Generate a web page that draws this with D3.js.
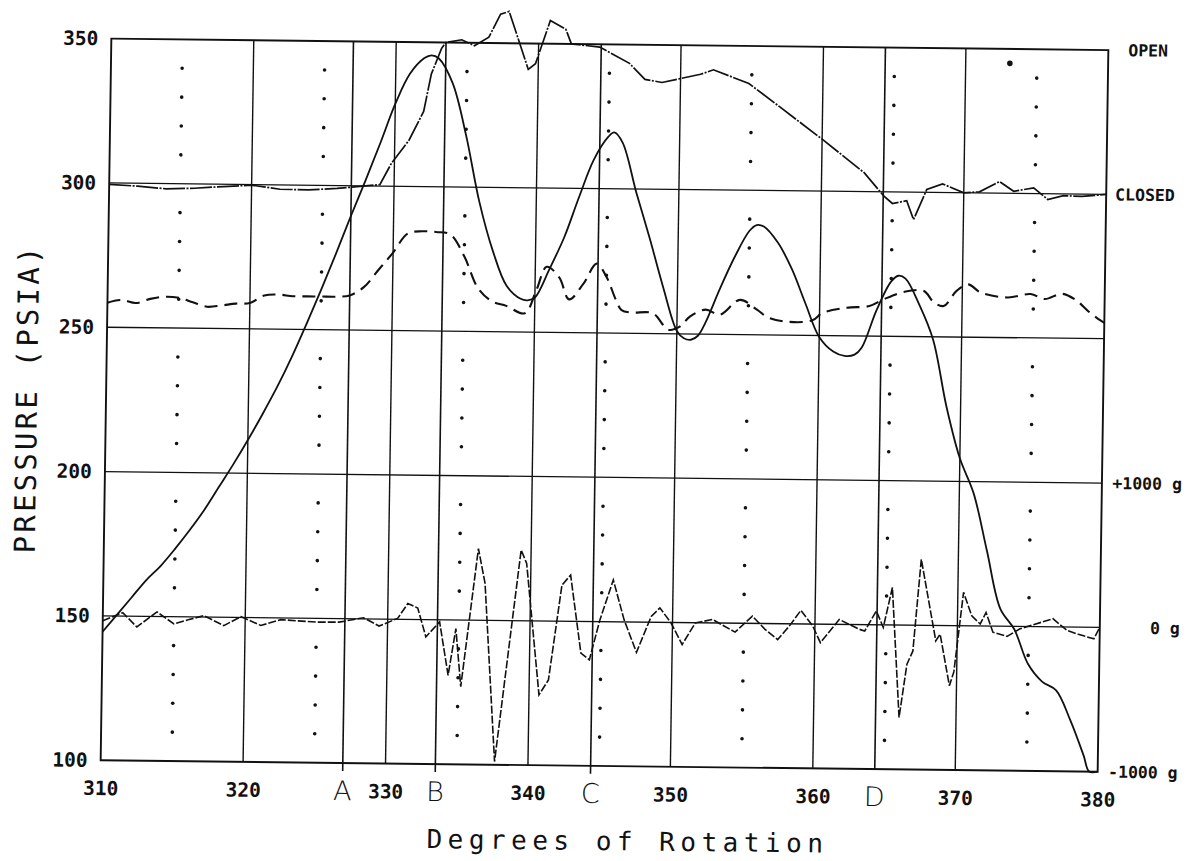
<!DOCTYPE html>
<html><head><meta charset="utf-8">
<script src="https://cdn.jsdelivr.net/npm/d3@7"></script>
<style>html,body{margin:0;padding:0;background:#fff;}svg{display:block;}</style>
</head><body>
<svg id="chart" width="1192" height="861"></svg>
<script>
// ---- data ----
const xTicks = [310, 320, 330, 340, 350, 360, 370, 380];
const yTicks = [100, 150, 200, 250, 300, 350];
const xGrid = [320, 330, 340, 350, 360, 370];
const yGrid = [150, 200, 250, 300];
const dottedDeg = [315, 325, 335, 345, 355, 365, 375];
const eventNames = ["A", "B", "C", "D"];
const eventDeg = [327, 333.5, 344.4, 364.35];
const rightLabelText = ["OPEN", "CLOSED", "+1000 g", "0 g", "-1000 g"];
const rightLabelLevel = [350, 300, 200, 150, 100];
const xTitle = "Degrees of Rotation";
const yTitle = "PRESSURE (PSIA)";

// cylinder pressure (solid smooth)
const pressure = [[310,144.5],[311,150.5],[312,156.5],[313,162.5],[314,167.5],[315,173.5],[316,180],[317,187],[318,195],[319,203],[320,211.5],[321,220.5],[322,230],[323,240.5],[324,252],[325,264],[326,276.5],[327,289.5],[328,302],[329,315],[330,328.5],[331,339],[332,344.5],[332.5,345.5],[333,344.5],[334,336],[335,318],[336,295],[337,278],[338,266],[339,261.5],[339.5,261],[340,262],[341,272],[342,283],[343,297],[344,310],[345,318],[345.4,319.5],[346,316],[347,299],[348,283],[349,266],[350,251],[350.5,248.5],[351,248],[351.5,249.5],[352,254],[353,266],[354,277],[355,286],[355.5,288],[356,287.5],[357,282],[358,273],[359,261],[360,249.5],[361,244.5],[361.8,243],[362.5,243.5],[363,246],[364,259],[365,269],[365.5,271],[366,270],[367,261],[368,249],[369,226],[370,208],[371,196],[372,176],[373,156],[374,149],[375,137],[376,131],[377,128],[378,118],[379,105.5],[379.4,100],[380,100]];

// valve position (CLOSED = 300, OPEN = 350)
const valve = [[310,299.5],[312,299],[314,298.2],[316,298.5],[318,299.2],[320,299.8],[322,298.5],[324,298.4],[326,299],[328,300],[329,300.5],[329.8,308],[331,316],[332,326],[332.5,339],[333.2,348],[333.5,350],[334.6,351],[335.5,349],[336.5,352],[337.3,360],[337.9,361],[339.3,341],[339.8,343],[340.8,358],[341.9,355],[342.3,350],[344.3,349],[346.4,343.5],[347.5,338],[348.7,337],[351.4,340],[352.3,341.6],[354.8,337],[357,329],[360,318],[363,306.5],[364.4,298.5],[365,296],[366,297],[366.5,290.5],[367.4,301],[368.5,303],[370,300],[371.1,300.4],[372.5,304],[373.5,300.7],[374.9,302],[375.9,298],[377,299.4],[378.3,299.2],[380,300]];

// second pressure trace (dashed)
const dashedTrace = [[310,258.5],[311,259.5],[312,258.5],[313,260],[314,260.8],[315,260.5],[316,259],[317,257.5],[318,258],[319,258.7],[320,259],[321,261.6],[322,262],[323,261.5],[324,261.5],[325,261.5],[326,261.5],[327,262],[328,265],[329,271],[330,277],[331,283.6],[332,284.5],[333,284.3],[334,283.5],[335,276],[336,265],[337,260.5],[338,259],[339.3,256.5],[340.1,264.6],[340.8,272.7],[341.7,269],[342.4,261.5],[343.4,267],[344.3,274],[345,269.5],[345.7,261.4],[346.1,258],[346.8,257.2],[348.3,257],[349.4,251.4],[350.2,252.5],[350.9,256],[352,258.5],[353,256.8],[354.4,262],[355.6,258.7],[356.4,256],[357.8,254.6],[359.5,255.2],[360.2,257.8],[361.9,259.7],[363.5,260.4],[364.5,262.8],[365.9,265.4],[367.3,265.8],[368,262],[368.7,260.7],[369.6,266],[370.4,268.3],[371.3,265.5],[373.2,263.9],[374.8,265.2],[375.8,263.5],[377,265.4],[378,263.2],[378.9,259.3],[379.7,256.4],[380,255.5]];

// accelerometer (0 g = 150, +-1000 g = +-50)
const accel = [[310,148.3],[311.4,151.2],[312.4,146.3],[313.8,151.6],[315,147.5],[316,149],[317.1,150.5],[318.5,147.1],[319.7,150.3],[321.1,147.3],[322.5,149.4],[325,148.7],[326.6,148.8],[328.3,150.4],[329.4,147.6],[330.7,150.3],[331.4,155.5],[332.1,154],[332.7,144],[333.65,149.3],[334.3,130.8],[334.8,147],[335.2,126.9],[336.3,174.8],[336.8,162.8],[337.65,101.1],[339.3,174.5],[339.7,169.9],[340.7,124.4],[341.35,129.6],[342.2,162.5],[342.8,166],[343.6,139],[344.2,136.7],[344.9,150.6],[345.8,164.5],[346.6,150.7],[347.5,139.5],[348.5,152],[349.1,155],[349.9,149.8],[350.7,142.4],[351.6,149.9],[352.8,151.2],[354.4,146.9],[355.6,152.5],[356.5,148],[357.4,144.5],[358.2,149.2],[359,154.7],[359.85,149.3],[360.4,143.6],[361.7,151.7],[363.1,148.4],[363.5,147.8],[364.3,154.8],[364.8,149.1],[365.4,163],[366,118],[366.5,136.5],[366.9,141],[367.4,172.9],[368.5,144.7],[368.8,147],[369.5,129.2],[369.8,134],[370.4,161.6],[371,153.5],[371.6,150.7],[372,154.7],[372.5,147.9],[373.5,146.5],[374.4,149.2],[375.3,150.6],[376.7,152.8],[377.7,148.8],[378.5,147.5],[379.6,146],[380,150.1]];

const strayMark = [[373.1, 345]];

// ---- drawing ----
const svg = d3.select('#chart');
svg.append('rect').attr('width', 1192).attr('height', 861).attr('fill', '#fff');
// slight skew of the scanned sheet
const g = svg.append('g').attr('transform', 'matrix(1,0.0115,-0.0148,1,6,-7)');

const x = d3.scaleLinear().domain([310, 380]).range([106, 1103]);
const y = d3.scaleLinear().domain([100, 350]).range([766, 44.4]);
const ink = '#111';
const mono = "'DejaVu Sans Mono', 'Liberation Mono', monospace";

// grid
g.append('g').selectAll('line').data(yGrid).join('line')
  .attr('x1', x(310)).attr('x2', x(380)).attr('y1', d => y(d)).attr('y2', d => y(d))
  .attr('stroke', ink).attr('stroke-width', 1.3);
g.append('g').selectAll('line').data(xGrid).join('line')
  .attr('x1', d => x(d)).attr('x2', d => x(d)).attr('y1', y(100)).attr('y2', y(350))
  .attr('stroke', ink).attr('stroke-width', 1.4);
g.append('g').selectAll('line').data(eventDeg).join('line')
  .attr('x1', d => x(d)).attr('x2', d => x(d))
  .attr('y1', (d, i) => y(100) + (i < 3 ? 8 : 0)).attr('y2', y(350))
  .attr('stroke', ink).attr('stroke-width', 1.6);

// dotted verticals
const dotLevels = d3.range(110, 350, 10).filter(v => v % 50 !== 0);
const dots = [];
dottedDeg.forEach(dx => dotLevels.forEach(dy => dots.push([dx, dy])));
g.append('g').selectAll('circle').data(dots).join('circle')
  .attr('cx', d => x(d[0])).attr('cy', d => y(d[1])).attr('r', 1.8).attr('fill', ink);

// frame
g.append('rect').attr('x', x(310)).attr('y', y(350))
  .attr('width', x(380) - x(310)).attr('height', y(100) - y(350))
  .attr('fill', 'none').attr('stroke', ink).attr('stroke-width', 1.9);

// series
const lineLin = d3.line().x(d => x(d[0])).y(d => y(d[1]));
const lineSmooth = d3.line().x(d => x(d[0])).y(d => y(d[1])).curve(d3.curveCatmullRom.alpha(0.5));

g.append('path').datum(dashedTrace).attr('d', lineSmooth)
  .attr('fill', 'none').attr('stroke', ink).attr('stroke-width', 2.1).attr('stroke-dasharray', '13,7');
g.append('path').datum(valve).attr('d', lineLin)
  .attr('fill', 'none').attr('stroke', ink).attr('stroke-width', 1.7).attr('stroke-dasharray', '22,1.5,2,1.5');
g.append('path').datum(accel).attr('d', lineLin)
  .attr('fill', 'none').attr('stroke', ink).attr('stroke-width', 1.6).attr('stroke-dasharray', '8,2');
g.append('path').datum(pressure).attr('d', lineSmooth)
  .attr('fill', 'none').attr('stroke', ink).attr('stroke-width', 1.8);

g.append('g').selectAll('circle').data(strayMark).join('circle')
  .attr('cx', d => x(d[0])).attr('cy', d => y(d[1])).attr('r', 2.8).attr('fill', ink);

// axes (labels only)
const xAxis = d3.axisBottom(x).tickValues(xTicks).tickSize(0).tickPadding(21).tickFormat(d3.format('d'));
const gx = g.append('g').attr('transform', `translate(0,${y(100)})`).call(xAxis);
gx.select('.domain').remove();
gx.attr('font-family', mono).attr('font-size', 19.5).attr('font-weight', 'bold');
gx.selectAll('text').attr('fill', ink);

const yAxis = d3.axisLeft(y).tickValues(yTicks).tickSize(0).tickPadding(13).tickFormat(d3.format('d'));
const gy = g.append('g').attr('transform', `translate(${x(310)},0)`).call(yAxis);
gy.select('.domain').remove();
gy.attr('font-family', mono).attr('font-size', 19.5).attr('font-weight', 'bold');
gy.selectAll('text').attr('fill', ink);

// right labels
g.append('g').selectAll('text').data(rightLabelText).join('text')
  .attr('x', (d, i) => i === 0 ? x(380) + 20 : (i === 1 ? x(380) + 9 : x(380) + 80))
  .attr('text-anchor', (d, i) => i < 2 ? 'start' : 'end')
  .attr('y', (d, i) => y(rightLabelLevel[i])).attr('dy', '0.36em')
  .attr('font-family', mono).attr('font-size', 16.5).attr('font-weight', 'bold')
  .attr('fill', ink).text(d => d);

// event letters
g.append('g').selectAll('text').data(eventNames).join('text')
  .attr('x', (d, i) => x(eventDeg[i])).attr('y', y(100) + 37)
  .attr('text-anchor', 'middle')
  .attr('font-family', "'DejaVu Sans', 'Liberation Sans', sans-serif").attr('font-weight', 300)
  .attr('font-size', 27).attr('fill', ink).text(d => d);

// titles
g.append('text').attr('x', 433).attr('y', 850)
  .attr('font-family', mono).attr('font-size', 26).attr('letter-spacing', 5.5)
  .attr('fill', ink).text(xTitle);
g.append('text').attr('transform', 'translate(37,560) rotate(-90)')
  .attr('font-family', mono).attr('font-size', 29).attr('letter-spacing', 3.2)
  .attr('fill', ink).text(yTitle);
</script>
</body></html>
